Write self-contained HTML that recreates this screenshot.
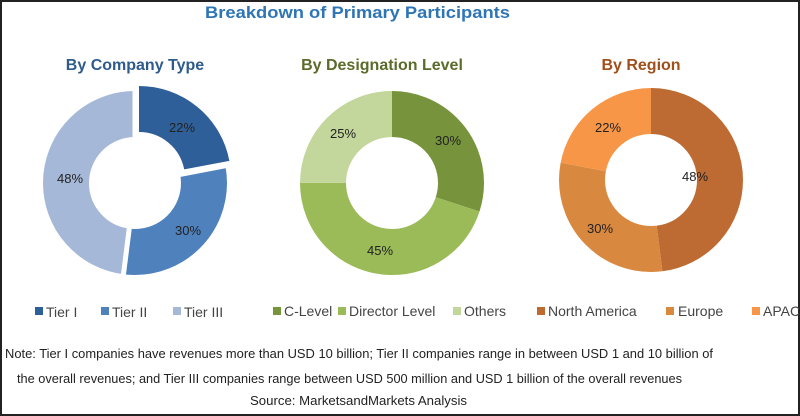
<!DOCTYPE html>
<html><head><meta charset="utf-8"><style>
body{margin:0;background:#fff}
svg{display:block}
text{font-family:"Liberation Sans",sans-serif}
</style></head><body>
<svg width="800" height="416" viewBox="0 0 800 416">
<rect x="1" y="1" width="798" height="414" fill="#fff" stroke="#222" stroke-width="2"/>
<text x="205" y="18" font-size="17" font-weight="bold" fill="#2e75b6" textLength="305" lengthAdjust="spacingAndGlyphs">Breakdown of Primary Participants</text>
<text x="135" y="70" text-anchor="middle" font-size="16" font-weight="bold" fill="#2f5b8c">By Company Type</text>
<text x="382" y="70" text-anchor="middle" font-size="16" font-weight="bold" fill="#5a6b2a">By Designation Level</text>
<text x="641" y="70" text-anchor="middle" font-size="16" font-weight="bold" fill="#a0501a">By Region</text>

<g fill="none" stroke-width="46">
<g transform="translate(135 183) rotate(-90)">
<circle r="69" stroke="#4f81bd" stroke-dasharray="130.06 433.54" stroke-dashoffset="-95.38"/>
<circle r="69" stroke="#a6b8d8" stroke-dasharray="208.1 433.54" stroke-dashoffset="-225.44"/>
</g>
<g transform="translate(139 178) rotate(-90)">
<circle r="69" stroke="#2f5f98" stroke-dasharray="95.38 433.54" stroke-dashoffset="0"/>
</g>
<g transform="translate(392 183) rotate(-90)">
<circle r="69" stroke="#77933c" stroke-dasharray="130.06 433.54" stroke-dashoffset="0"/>
<circle r="69" stroke="#9bbb59" stroke-dasharray="195.09 433.54" stroke-dashoffset="-130.06"/>
<circle r="69" stroke="#c3d69b" stroke-dasharray="108.39 433.54" stroke-dashoffset="-325.16"/>
</g>
<g transform="translate(651 180) rotate(-90)">
<circle r="69" stroke="#bd6b33" stroke-dasharray="208.1 433.54" stroke-dashoffset="0"/>
<circle r="69" stroke="#d8893f" stroke-dasharray="130.06 433.54" stroke-dashoffset="-208.1"/>
<circle r="69" stroke="#f79646" stroke-dasharray="95.38 433.54" stroke-dashoffset="-338.16"/>
</g>
</g>
<g stroke="#fff" stroke-width="5">
<line x1="135" y1="137" x2="135" y2="86"/>
<line x1="178.2" y1="174.8" x2="229" y2="165"/>
<line x1="129.5" y1="226.7" x2="123" y2="278"/>
</g>
<g font-size="13" fill="#222">
<text x="182" y="132" text-anchor="middle">22%</text>
<text x="188" y="235" text-anchor="middle">30%</text>
<text x="70" y="183" text-anchor="middle">48%</text>
<text x="448" y="145" text-anchor="middle">30%</text>
<text x="380" y="255" text-anchor="middle">45%</text>
<text x="343" y="138" text-anchor="middle">25%</text>
<text x="695" y="181" text-anchor="middle">48%</text>
<text x="600" y="233" text-anchor="middle">30%</text>
<text x="608" y="132" text-anchor="middle">22%</text>
</g>
<g font-size="14" fill="#444">
<rect x="35" y="307" width="8" height="8" fill="#2f5f98"/><text x="46" y="317">Tier I</text>
<rect x="101" y="307" width="8" height="8" fill="#4f81bd"/><text x="112" y="317">Tier II</text>
<rect x="173" y="307" width="8" height="8" fill="#a6b8d8"/><text x="184" y="317">Tier III</text>
<rect x="273" y="307" width="8" height="8" fill="#77933c"/><text x="284" y="316">C-Level</text>
<rect x="338" y="307" width="8" height="8" fill="#9bbb59"/><text x="349" y="316">Director Level</text>
<rect x="453" y="307" width="8" height="8" fill="#c3d69b"/><text x="464" y="316">Others</text>
<rect x="537" y="307" width="8" height="8" fill="#bd6b33"/><text x="548" y="316">North America</text>
<rect x="666" y="307" width="8" height="8" fill="#d8893f"/><text x="678" y="316">Europe</text>
<rect x="752" y="307" width="8" height="8" fill="#f79646"/><text x="763" y="316">APAC</text>
</g>
<g font-size="12.5" fill="#222">
<text x="5" y="358" textLength="708" lengthAdjust="spacingAndGlyphs">Note: Tier I companies have revenues more than USD 10 billion; Tier II companies range in between USD 1 and 10 billion of</text>
<text x="17" y="383" textLength="665" lengthAdjust="spacingAndGlyphs">the overall revenues; and Tier III companies range between USD 500 million and USD 1 billion of the overall revenues</text>
<text x="250" y="405" textLength="217" lengthAdjust="spacingAndGlyphs">Source: MarketsandMarkets Analysis</text>
</g>
</svg>
</body></html>
